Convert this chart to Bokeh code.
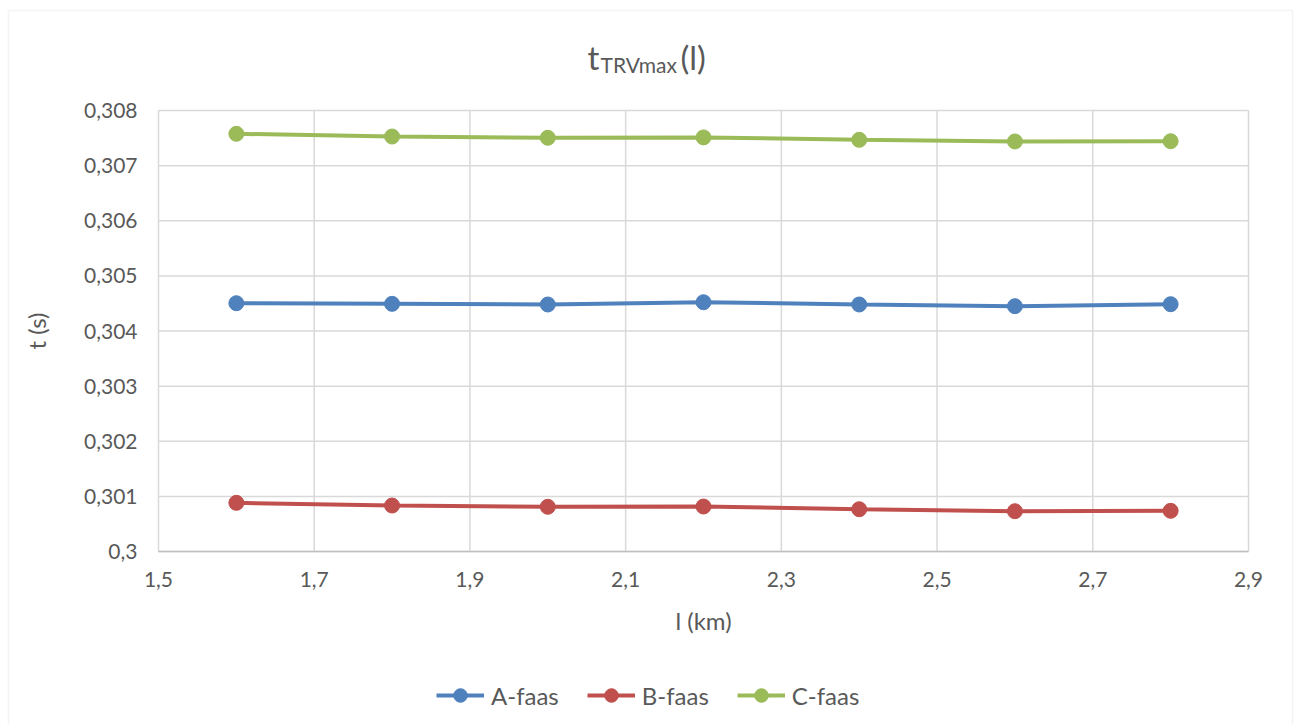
from bokeh.plotting import figure
from bokeh.models import (FixedTicker, Range1d, Legend, LegendItem, Label, BoxAnnotation)
from bokeh.embed import file_html
from bokeh.resources import INLINE

# ---- data ----
l_km = [1.6, 1.8, 2.0, 2.2, 2.4, 2.6, 2.8]
a_faas = [0.304504, 0.304493, 0.304481, 0.304522, 0.304481, 0.304450, 0.304486]
b_faas = [0.300883, 0.300834, 0.300811, 0.300816, 0.300767, 0.300731, 0.300738]
c_faas = [0.307577, 0.307528, 0.307505, 0.307512, 0.307468, 0.307438, 0.307443]
series_names = ["A-faas", "B-faas", "C-faas"]
x_ticks = [1.5, 1.7, 1.9, 2.1, 2.3, 2.5, 2.7, 2.9]
x_tick_labels = ["1,5", "1,7", "1,9", "2,1", "2,3", "2,5", "2,7", "2,9"]
y_ticks = [0.300, 0.301, 0.302, 0.303, 0.304, 0.305, 0.306, 0.307, 0.308]
y_tick_labels = ["0,3", "0,301", "0,302", "0,303", "0,304", "0,305", "0,306", "0,307", "0,308"]
colors = ["#4F81BD", "#C0504D", "#9BBB59"]

FONT = "Lato"
TXT = "#595959"
GRID = "#D9D9D9"
W, H = 1294, 724

# layout of the plot area on the canvas (pixels)
PLOT_LEFT, PLOT_RIGHT, PLOT_TOP, PLOT_BOTTOM = 158, 1248, 110, 551
X0, X1 = x_ticks[0], x_ticks[-1]
Y0, Y1 = y_ticks[0], y_ticks[-1]

def dx(px):
    return X0 + (px - PLOT_LEFT) * (X1 - X0) / (PLOT_RIGHT - PLOT_LEFT)

def dy(py):
    return Y0 + (PLOT_BOTTOM - py) * (Y1 - Y0) / (PLOT_BOTTOM - PLOT_TOP)

p = figure(width=W, height=H, output_backend="svg", toolbar_location=None,
           x_range=Range1d(dx(0), dx(W)), y_range=Range1d(dy(H), dy(0)),
           min_border=0, min_border_left=0, min_border_right=0,
           min_border_top=0, min_border_bottom=0)
p.outline_line_color = None
p.background_fill_color = "white"
p.border_fill_color = "white"
p.xgrid.visible = False
p.ygrid.visible = False

# gridlines of the plot area, from the tick lists
p.segment(x0=x_ticks, y0=[Y0] * len(x_ticks), x1=x_ticks, y1=[Y1] * len(x_ticks),
          line_color=GRID, line_width=1.5)
p.segment(x0=[X0] * len(y_ticks), y0=y_ticks, x1=[X1] * len(y_ticks), y1=y_ticks,
          line_color=GRID, line_width=1.5)

# axes drawn at the plot-area edges
p.xaxis.fixed_location = Y0
p.yaxis.fixed_location = X0
p.xaxis.bounds = (X0, X1)
p.yaxis.bounds = (Y0, Y1)
p.xaxis.ticker = FixedTicker(ticks=x_ticks)
p.xaxis.major_label_overrides = dict(zip(x_ticks, x_tick_labels))
p.yaxis.ticker = FixedTicker(ticks=y_ticks)
p.yaxis.major_label_overrides = dict(zip(y_ticks, y_tick_labels))
for ax in (p.xaxis[0], p.yaxis[0]):
    ax.major_tick_line_color = None
    ax.minor_tick_line_color = None
    ax.major_label_text_font = FONT
    ax.major_label_text_font_size = "21px"
    ax.major_label_text_color = TXT
    ax.axis_label_text_font = FONT
    ax.axis_label_text_font_size = "24px"
    ax.axis_label_text_font_style = "normal"
    ax.axis_label_text_color = TXT
p.xaxis.axis_line_color = "#BFBFBF"
p.xaxis.axis_line_width = 1.5
p.yaxis.axis_line_color = None
p.xaxis.major_label_standoff = 14
p.yaxis.major_label_standoff = 15
p.xaxis.axis_label = "l (km)"
p.yaxis.axis_label = "t (s)"
p.xaxis.axis_label_standoff = 16
p.yaxis.axis_label_standoff = 30

items = []
for name, ys, col in zip(series_names, [a_faas, b_faas, c_faas], colors):
    r1 = p.line(l_km, ys, line_color=col, line_width=4)
    r2 = p.scatter(l_km, ys, marker="circle", size=15, fill_color=col, line_color=col)
    items.append(LegendItem(label=name, renderers=[r1, r2]))

legend = Legend(items=items, orientation="horizontal", location=(436, H - 712),
                label_text_font=FONT, label_text_font_size="24px",
                label_text_color=TXT, glyph_width=48, glyph_height=34,
                label_standoff=7, spacing=28, border_line_color=None,
                background_fill_alpha=0, padding=2, margin=0)
p.add_layout(legend, "center")

# title  t_{TRVmax}(l)
p.add_layout(Label(x=dx(587), y=dy(56), text="t",
                   text_font=FONT, text_font_size="33px", text_color=TXT,
                   text_baseline="alphabetic"))
p.add_layout(Label(x=dx(600), y=dy(64), text="TRVmax",
                   text_font=FONT, text_font_size="21px", text_color=TXT,
                   text_baseline="alphabetic"))
p.add_layout(Label(x=dx(680), y=dy(56), text="(l)",
                   text_font=FONT, text_font_size="33px", text_color=TXT,
                   text_baseline="alphabetic"))

# outer chart border
p.add_layout(BoxAnnotation(left=dx(8), right=dx(1292), top=dy(10), bottom=dy(H + 10),
                           fill_alpha=0, line_color=GRID, line_width=1.5))

open("out.html", "w").write(file_html(p, INLINE))
